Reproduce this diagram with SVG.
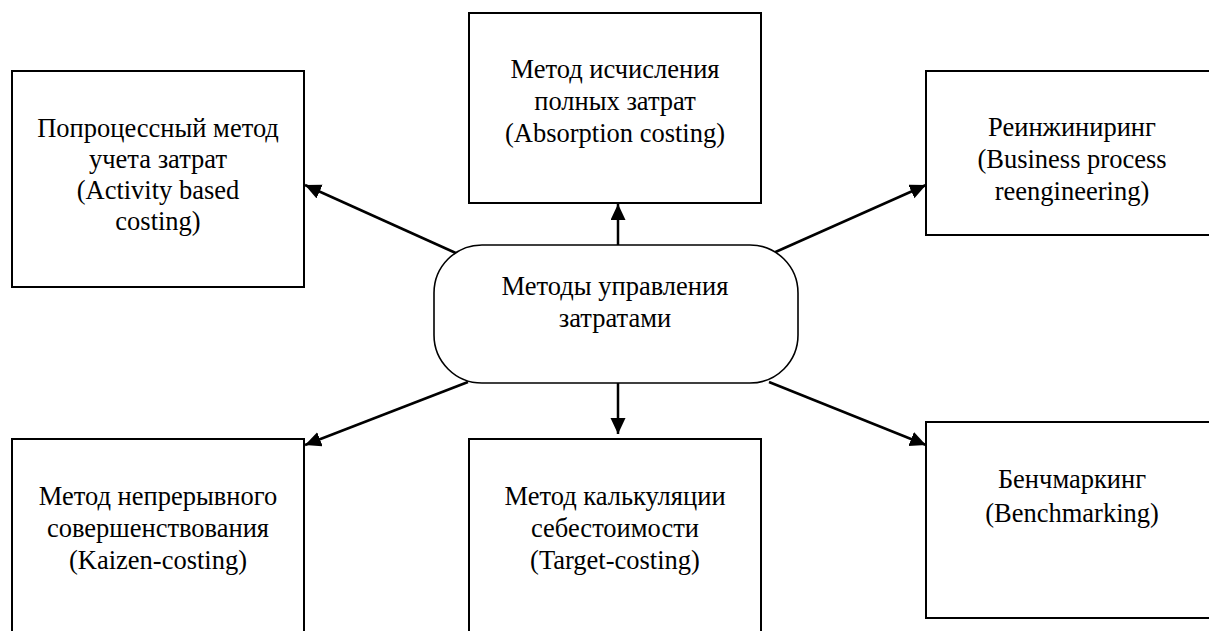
<svg xmlns="http://www.w3.org/2000/svg" width="1209" height="631" viewBox="0 0 1209 631">
<style>
.box{fill:#fff;stroke:#000;stroke-width:2}
.hub{fill:#fff;stroke:#000;stroke-width:1.6}
.lbl{font-family:'Liberation Serif','DejaVu Serif',serif;font-size:26.5px;fill:#000;text-anchor:middle}
.con{stroke:#000;stroke-width:2.5;fill:none;marker-end:url(#ah)}
</style>
<defs>
<marker id="ah" markerUnits="userSpaceOnUse" markerWidth="17" markerHeight="16" refX="16" refY="7.5" orient="auto">
<path d="M0,0 L16,7.5 L0,15 z" fill="#000"/>
</marker>
</defs>
<rect width="1209" height="631" fill="#fff"/>
<g id="connectors">
<line class="con" x1="458" y1="254" x2="305" y2="185"/>
<line class="con" x1="618" y1="245" x2="618" y2="204"/>
<line class="con" x1="771" y1="254" x2="926" y2="185"/>
<line class="con" x1="468" y1="382" x2="305" y2="445"/>
<line class="con" x1="618" y1="383" x2="618" y2="434"/>
<line class="con" x1="769" y1="382" x2="926" y2="445"/>
</g>
<g id="node-abc">
<rect class="box" x="12" y="71" width="292" height="216"/>
<text class="lbl" x="158" y="137">Попроцессный метод</text>
<text class="lbl" x="158" y="168">учета затрат</text>
<text class="lbl" x="158" y="199">(Activity based</text>
<text class="lbl" x="158" y="230">costing)</text>
</g>
<g id="node-absorption">
<rect class="box" x="469" y="13" width="292" height="190"/>
<text class="lbl" x="615" y="78">Метод исчисления</text>
<text class="lbl" x="615" y="110">полных затрат</text>
<text class="lbl" x="615" y="142">(Absorption costing)</text>
</g>
<g id="node-bpr">
<rect class="box" x="926" y="71" width="292" height="164"/>
<text class="lbl" x="1072" y="136">Реинжиниринг</text>
<text class="lbl" x="1072" y="168">(Business process</text>
<text class="lbl" x="1072" y="200">reengineering)</text>
</g>
<g id="node-center">
<rect class="hub" x="434" y="245" width="364" height="138" rx="48" ry="48"/>
<text class="lbl" x="615" y="295">Методы управления</text>
<text class="lbl" x="615" y="327">затратами</text>
</g>
<g id="node-kaizen">
<rect class="box" x="12" y="439" width="292" height="210"/>
<text class="lbl" x="158" y="505">Метод непрерывного</text>
<text class="lbl" x="158" y="537">совершенствования</text>
<text class="lbl" x="158" y="569">(Kaizen-costing)</text>
</g>
<g id="node-target">
<rect class="box" x="469" y="439" width="292" height="210"/>
<text class="lbl" x="615" y="505">Метод калькуляции</text>
<text class="lbl" x="615" y="537">себестоимости</text>
<text class="lbl" x="615" y="569">(Target-costing)</text>
</g>
<g id="node-benchmarking">
<rect class="box" x="926" y="422" width="292" height="196"/>
<text class="lbl" x="1072" y="488">Бенчмаркинг</text>
<text class="lbl" x="1072" y="522">(Benchmarking)</text>
</g>
</svg>
